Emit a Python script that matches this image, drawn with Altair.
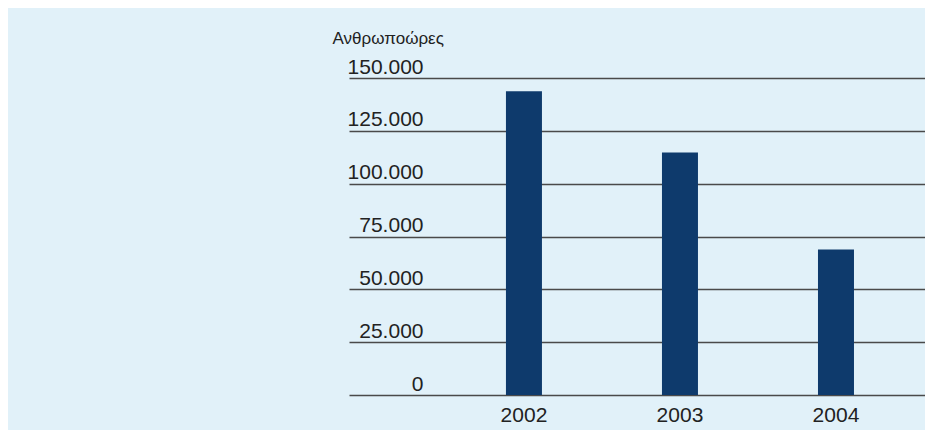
import altair as alt
import pandas as pd

years = ["2002", "2003", "2004"]
hours = [143700, 114800, 68900]
y_ticks = [0, 25000, 50000, 75000, 100000, 125000, 150000]
y_title = "Ανθρωποώρες"

df = pd.DataFrame({"year": years, "hours": hours})

FONT = "Liberation Sans"

chart = alt.Chart(df).mark_bar(color="#0e3a6c", width=36).encode(
    x=alt.X(
        "year:N",
        sort=years,
        scale=alt.Scale(paddingInner=0, paddingOuter=0.346, align=0.898),
        axis=alt.Axis(
            title=None,
            domain=False,
            ticks=False,
            labelAngle=0,
            labelFont=FONT,
            labelFontSize=21,
            labelColor="#222222",
            labelPadding=9,
        ),
    ),
    y=alt.Y(
        "hours:Q",
        scale=alt.Scale(domain=[0, 150000], nice=False, zero=True),
        axis=alt.Axis(
            values=y_ticks,
            title=y_title,
            titleAngle=0,
            titleAlign="left",
            titleBaseline="alphabetic",
            titleX=-17,
            titleY=-35,
            titleFont=FONT,
            titleFontSize=17,
            titleFontWeight="normal",
            titleColor="#222222",
            domain=False,
            ticks=False,
            grid=True,
            gridColor="#4a4a4a",
            gridWidth=1.6,
            labelAlign="right",
            labelBaseline="alphabetic",
            labelPadding=-74,
            labelOffset=-5,
            labelFont=FONT,
            labelFontSize=21,
            labelColor="#222222",
            labelExpr="replace(format(datum.value, ','), ',', '.')",
        ),
    ),
).properties(
    width=576,
    height=317,
    autosize=alt.AutoSizeParams(type="none"),
    padding={"left": 341, "top": 70, "right": 0, "bottom": 35},
    background="#e1f1f9",
).configure_view(stroke=None)

chart.save("out.html", embed_options={"renderer": "svg", "actions": False})
